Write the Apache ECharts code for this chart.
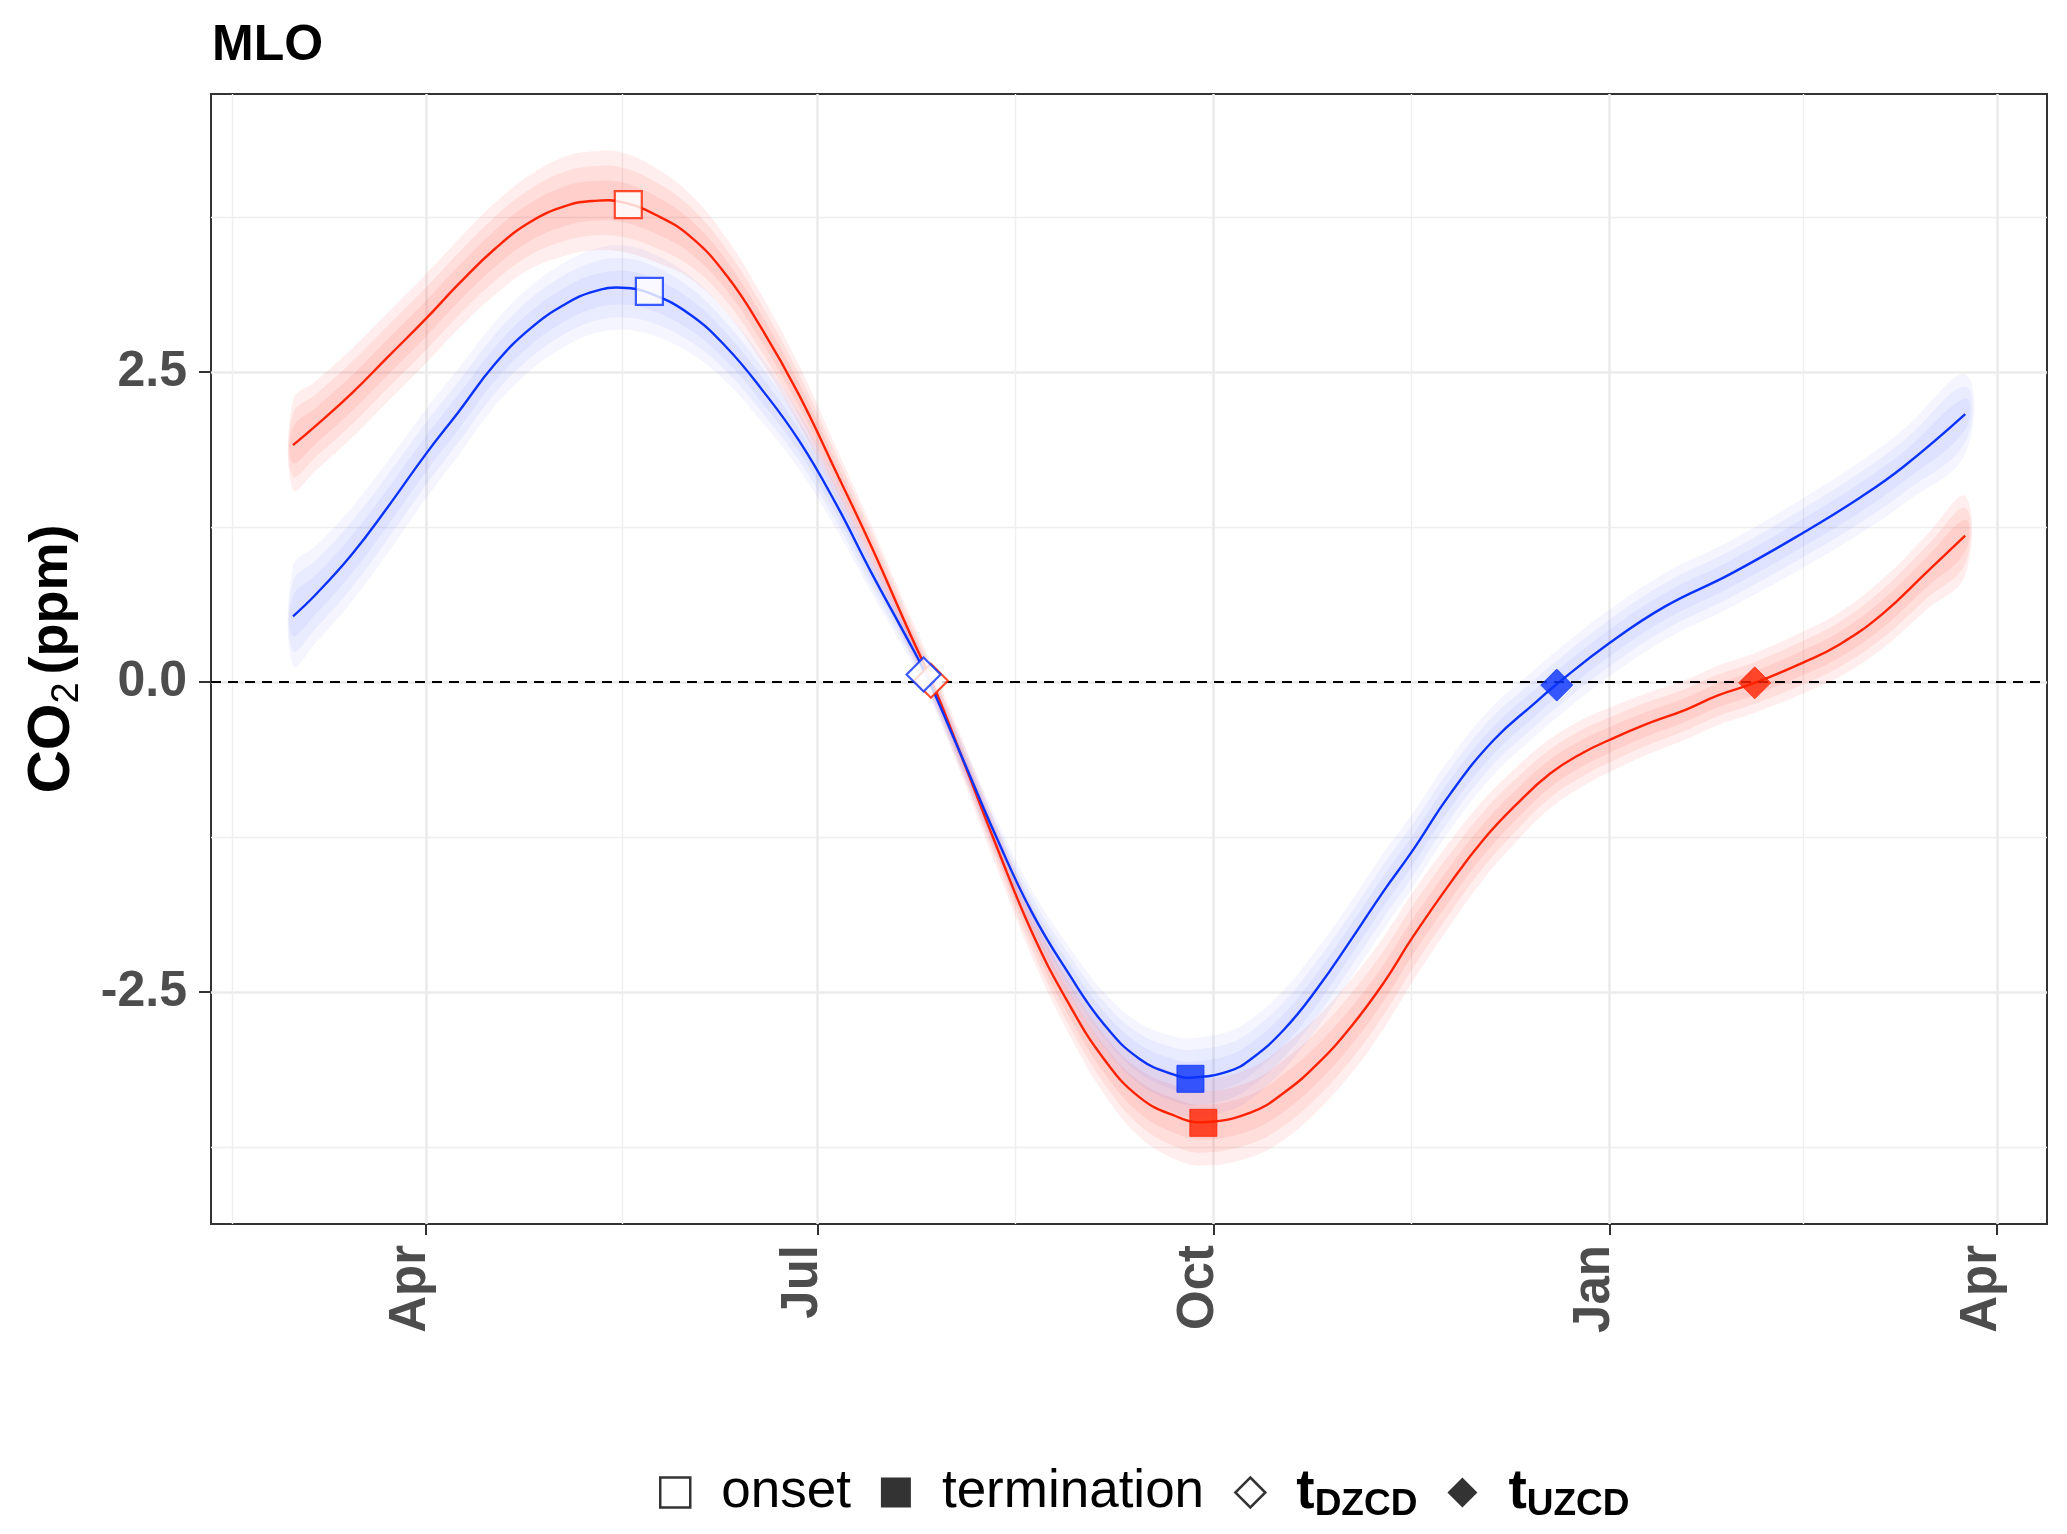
<!DOCTYPE html>
<html>
<head>
<meta charset="utf-8">
<script src="https://cdn.jsdelivr.net/npm/echarts@6/dist/echarts.min.js"></script>
<style>
html,body{margin:0;padding:0;background:#fff;}
#chart{width:2067px;height:1534px;}
</style>
</head>
<body>
<div id="chart"></div>
<script>
// ---- data (x = days since 1 April) ----
const monthTickDays = [0, 91, 183, 275, 365];
const monthTickLabels = ['Apr', 'Jul', 'Oct', 'Jan', 'Apr'];
const minorTickDays = [-45, 45.5, 137, 229, 320];
const yTickValues = [-2.5, 0, 2.5];
const yMinorValues = [-3.75, -1.25, 1.25, 3.75];

const redDays = [-30.9,-25.5,-17.2,-8.9,0,7.6,15.9,24.2,32.5,39.1,45.5,53.2,61.5,69.8,78.0,86.6,95.2,103.5,111.8,118.4,124.2,132.5,140.8,149.1,157.5,165.8,174.1,180.7,191.7,199.4,207.1,214.9,222.6,229.0,238.0,245.7,253.4,261.1,268.8,274.8,282.8,292.9,300.0,308.5,319.8,328.3,338.4,348.5,357.6];
const redValues = [1.91,2.07,2.33,2.62,2.93,3.21,3.49,3.71,3.84,3.88,3.87,3.77,3.59,3.28,2.85,2.32,1.70,1.09,0.44,-0.07,-0.58,-1.32,-2.02,-2.58,-3.04,-3.35,-3.50,-3.55,-3.47,-3.31,-3.08,-2.78,-2.42,-2.07,-1.62,-1.27,-0.985,-0.74,-0.57,-0.47,-0.35,-0.22,-0.11,-0.01,0.155,0.30,0.55,0.88,1.18];
const redSpread = [0.36,0.36,0.36,0.36,0.36,0.36,0.37,0.38,0.40,0.40,0.40,0.38,0.34,0.30,0.27,0.24,0.20,0.17,0.15,0.14,0.15,0.17,0.20,0.24,0.28,0.32,0.35,0.35,0.36,0.38,0.38,0.38,0.37,0.36,0.34,0.32,0.30,0.28,0.27,0.26,0.25,0.24,0.24,0.24,0.25,0.26,0.28,0.30,0.32];

const blueDays = [-30.9,-25.5,-17.2,-8.9,0,7.6,15.9,24.2,32.5,39.1,45.5,52.4,61.5,69.8,78.0,86.6,95.2,103.5,111.8,116.0,124.2,132.5,140.8,149.1,157.5,165.8,174.1,178.1,186.4,191.7,199.4,207.1,214.9,222.6,229.0,238.0,248.0,257.6,262.6,274.8,287.9,303.0,319.8,333.3,343.4,357.6];
const blueValues = [0.53,0.71,1.03,1.41,1.84,2.18,2.56,2.85,3.05,3.15,3.18,3.13,2.96,2.70,2.36,1.95,1.44,0.88,0.35,0.07,-0.58,-1.25,-1.86,-2.34,-2.76,-3.04,-3.17,-3.19,-3.14,-3.04,-2.80,-2.47,-2.08,-1.68,-1.37,-0.90,-0.47,-0.17,-0.02,0.31,0.61,0.87,1.20,1.49,1.74,2.16];
const blueSpread = [0.40,0.39,0.38,0.37,0.36,0.35,0.34,0.34,0.34,0.34,0.34,0.33,0.31,0.28,0.26,0.23,0.20,0.16,0.13,0.12,0.13,0.15,0.18,0.22,0.26,0.29,0.31,0.32,0.32,0.32,0.32,0.32,0.31,0.31,0.30,0.29,0.28,0.27,0.27,0.27,0.27,0.27,0.28,0.29,0.30,0.32];

const markerTypes = ['onset', 'termination', 'tDZCD', 'tUZCD'];
const redMarkerDays = [47.0, 180.6, 117.3, 308.7];
const redMarkerValues = [3.85, -3.555, 0.01, -0.007];
const blueMarkerDays = [51.9, 177.6, 115.6, 262.7];
const blueMarkerValues = [3.15, -3.20, 0.06, -0.025];

// ---- styling ----
const FONT = "'Liberation Sans', Arial, Helvetica, sans-serif";
const RED = '#FF2200';
const BLUE = '#0A33FF';
const LINE_SMOOTH = 0.45;
const bandLayers = [1.0, 0.7, 0.4];
const markerShape = {onset: 'rect', termination: 'rect', tDZCD: 'diamond', tUZCD: 'diamond'};
const markerFilled = {onset: false, termination: true, tDZCD: false, tUZCD: true};
const markerSize = {onset: 27, termination: 27, tDZCD: 34, tUZCD: 32};
const X_MIN = -49.95, X_MAX = 376.6, Y_MIN = -4.371, Y_MAX = 4.742;

function bandSeries(days, vals, spread, color, opacity) {
  return bandLayers.map(f => ({
    type: 'custom', silent: true, z: 1, clip: true,
    data: [[days[0], vals[0]]],
    renderItem: function (params, api) {
      const upper = days.map((d, k) => api.coord([d, vals[k] + spread[k] * f]));
      const lower = days.map((d, k) => api.coord([d, vals[k] - spread[k] * f])).reverse();
      return {
        type: 'polygon',
        shape: {points: upper.concat(lower), smooth: 0.4},
        style: {fill: color, opacity: opacity}
      };
    }
  }));
}

function centreLine(days, vals, color) {
  return {
    type: 'custom', silent: true, z: 3, clip: true,
    data: [[days[0], vals[0]]],
    renderItem: function (params, api) {
      const pts = days.map((d, k) => api.coord([d, vals[k]]));
      return {
        type: 'polyline',
        shape: {points: pts, smooth: LINE_SMOOTH},
        style: {stroke: color, lineWidth: 2.4, fill: null}
      };
    }
  };
}

function markerSeries(days, vals, color) {
  return markerTypes.map((t, i) => ({
    type: 'scatter', silent: true, z: 6,
    symbol: markerShape[t], symbolSize: markerSize[t],
    itemStyle: markerFilled[t]
      ? {color: color, borderColor: color, borderWidth: 1}
      : {color: '#ffffff', borderColor: color, borderWidth: 2.2},
    data: [[days[i], vals[i]]]
  }));
}

const series = [];
series.push(...bandSeries(redDays, redValues, redSpread, 'rgb(255,30,20)', 0.075));
series.push(...bandSeries(blueDays, blueValues, blueSpread, 'rgb(60,80,255)', 0.055));
series.push(centreLine(redDays, redValues, RED));
series.push(centreLine(blueDays, blueValues, BLUE));
// zero reference line
series.push({
  type: 'line', silent: true, z: 4, data: [], symbol: 'none',
  markLine: {
    silent: true, symbol: 'none', z: 4, label: {show: false},
    lineStyle: {color: '#000', width: 2, type: [10, 7]},
    data: [{yAxis: 0}]
  }
});
series.push(...markerSeries(redMarkerDays, redMarkerValues, RED));
series.push(...markerSeries(blueMarkerDays, blueMarkerValues, BLUE));
// legend entries
markerTypes.forEach(t => series.push({type: 'scatter', name: t, data: [], symbol: markerShape[t]}));

const chart = echarts.init(document.getElementById('chart'), null, {renderer: 'canvas'});
chart.setOption({
  animation: false,
  backgroundColor: '#ffffff',
  textStyle: {fontFamily: FONT},
  title: {
    text: 'MLO', left: 207, top: 16,
    textStyle: {fontFamily: FONT, fontSize: 50, fontWeight: 'bold', color: '#000'}
  },
  grid: {
    left: 211, right: 20, top: 94, bottom: 310,
    show: true, borderColor: '#333333', borderWidth: 2, backgroundColor: 'transparent'
  },
  xAxis: [
    {
      type: 'value', min: X_MIN, max: X_MAX, position: 'bottom',
      axisLine: {show: false, onZero: false},
      axisTick: {show: true, customValues: monthTickDays, length: 11, lineStyle: {color: '#333333', width: 2}},
      axisLabel: {
        show: true, customValues: monthTickDays, rotate: 90, margin: 21,
        verticalAlign: 'bottom', lineHeight: 30,
        fontFamily: FONT, fontSize: 51, fontWeight: 'bold', color: '#4D4D4D',
        formatter: v => monthTickLabels[monthTickDays.indexOf(v)] || ''
      },
      splitLine: {show: true, lineStyle: {color: '#EBEBEB', width: 2.6}}
    },
    {
      type: 'value', min: X_MIN, max: X_MAX, position: 'bottom',
      axisLine: {show: false, onZero: false},
      axisTick: {show: false, customValues: minorTickDays},
      axisLabel: {show: false, customValues: minorTickDays},
      splitLine: {show: true, lineStyle: {color: '#EFEFEF', width: 1.4}}
    }
  ],
  yAxis: [
    {
      type: 'value', min: Y_MIN, max: Y_MAX, position: 'left',
      axisLine: {show: false, onZero: false},
      axisTick: {show: true, customValues: yTickValues, length: 12, lineStyle: {color: '#333333', width: 2}},
      axisLabel: {
        show: true, customValues: yTickValues, margin: 24,
        fontFamily: FONT, fontSize: 50, fontWeight: 'bold', color: '#4D4D4D',
        formatter: v => Number(v).toFixed(1)
      },
      splitLine: {show: true, lineStyle: {color: '#EBEBEB', width: 2.6}},
      name: '{a|CO}{s|2}{b|(ppm)}',
      nameLocation: 'middle', nameRotate: 90, nameGap: 124,
      nameTextStyle: {
        rich: {
          a: {fontFamily: FONT, fontSize: 60, fontWeight: 'bold', color: '#000', lineHeight: 70},
          s: {fontFamily: FONT, fontSize: 38, fontWeight: 'normal', color: '#000', lineHeight: 38, verticalAlign: 'bottom'},
          b: {fontFamily: FONT, fontSize: 54, fontWeight: 'bold', color: '#000', lineHeight: 70, padding: [0, 0, 0, 8]}
        }
      }
    },
    {
      type: 'value', min: Y_MIN, max: Y_MAX, position: 'left',
      axisLine: {show: false, onZero: false},
      axisTick: {show: false, customValues: yMinorValues},
      axisLabel: {show: false, customValues: yMinorValues},
      splitLine: {show: true, lineStyle: {color: '#EFEFEF', width: 1.4}}
    }
  ],
  legend: {
    left: 654, top: 1460, orient: 'horizontal',
    itemWidth: 30, itemHeight: 30, itemGap: 30,
    selectedMode: false,
    data: [
      {name: 'onset', icon: 'rect', itemStyle: {color: '#ffffff', borderColor: '#000', borderWidth: 2.5}},
      {name: 'termination', icon: 'rect', itemStyle: {color: '#000', borderWidth: 0}},
      {name: 'tDZCD', icon: 'diamond', itemStyle: {color: '#ffffff', borderColor: '#000', borderWidth: 2.5}},
      {name: 'tUZCD', icon: 'diamond', itemStyle: {color: '#000', borderWidth: 0}}
    ],
    formatter: function (name) {
      if (name === 'tDZCD') return '{t|t}{s|DZCD}';
      if (name === 'tUZCD') return '{t|t}{s|UZCD}';
      return '{n|' + name + '}';
    },
    textStyle: {
      fontFamily: FONT, fontSize: 53, color: '#000', padding: [0, 0, 0, 26],
      rich: {
        n: {fontFamily: FONT, fontSize: 53, color: '#000', lineHeight: 62},
        t: {fontFamily: FONT, fontSize: 55, fontWeight: 'bold', color: '#000', lineHeight: 62},
        s: {fontFamily: FONT, fontSize: 37, fontWeight: 'bold', color: '#000', lineHeight: 37, verticalAlign: 'bottom'}
      }
    }
  },
  series: series
});
</script>
</body>
</html>
